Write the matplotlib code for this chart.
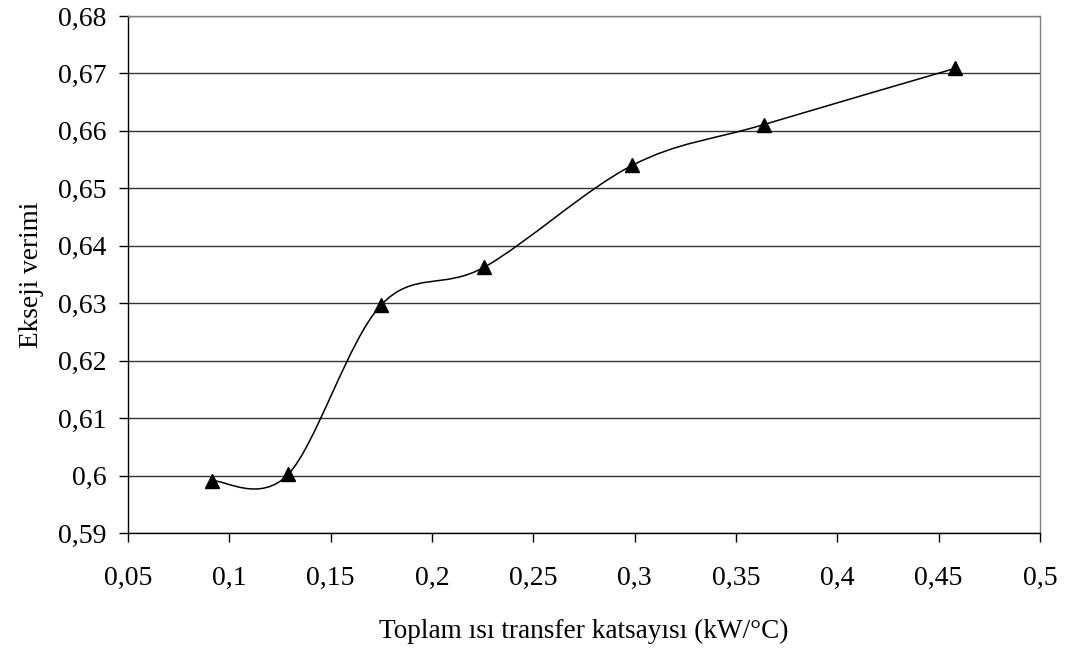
import matplotlib
matplotlib.use('Agg')
import matplotlib.pyplot as plt
from matplotlib.path import Path
from matplotlib.patches import PathPatch

# Data
u_values = [0.0915, 0.129, 0.1749, 0.2259, 0.2988, 0.3637, 0.4583]
exergy_eff = [0.5991, 0.6002, 0.6297, 0.6363, 0.6540, 0.6611, 0.6709]

x_ticks = [0.05, 0.1, 0.15, 0.2, 0.25, 0.3, 0.35, 0.4, 0.45, 0.5]
x_tick_labels = ['0,05', '0,1', '0,15', '0,2', '0,25', '0,3', '0,35', '0,4', '0,45', '0,5']
y_ticks = [0.59, 0.60, 0.61, 0.62, 0.63, 0.64, 0.65, 0.66, 0.67, 0.68]
y_tick_labels = ['0,59', '0,6', '0,61', '0,62', '0,63', '0,64', '0,65', '0,66', '0,67', '0,68']

plt.rcParams['font.family'] = ['Liberation Serif', 'DejaVu Serif']


def smooth_path(xs, ys):
    # Excel-style smoothed line: cubic Bezier segments through the points
    pts = list(zip(xs, ys))
    n = len(pts)
    verts = [pts[0]]
    codes = [Path.MOVETO]
    for i in range(n - 1):
        p0 = pts[i - 1] if i > 0 else pts[i]
        p1 = pts[i]
        p2 = pts[i + 1]
        p3 = pts[i + 2] if i + 2 < n else pts[i + 1]
        c1 = (p1[0] + (p2[0] - p0[0]) / 6, p1[1] + (p2[1] - p0[1]) / 6)
        c2 = (p2[0] - (p3[0] - p1[0]) / 6, p2[1] - (p3[1] - p1[1]) / 6)
        verts += [c1, c2, p2]
        codes += [Path.CURVE4] * 3
    return Path(verts, codes)


fig = plt.figure(figsize=(10.7, 6.52), dpi=100)
ax = fig.add_axes([128 / 1070, (652 - 533) / 652, (1040 - 128) / 1070, (533 - 16) / 652])

ax.add_patch(PathPatch(smooth_path(u_values, exergy_eff), facecolor='none',
                       edgecolor='black', linewidth=1.1, zorder=2))
ax.plot(u_values, exergy_eff, linestyle='none', marker='^', color='black',
        markersize=9.5, zorder=3)

ax.set_xlim(0.05, 0.5)
ax.set_ylim(0.59, 0.68)
ax.set_xticks(x_ticks)
ax.set_xticklabels(x_tick_labels)
ax.set_yticks(y_ticks)
ax.set_yticklabels(y_tick_labels)

ax.yaxis.grid(True, color='#333333', linewidth=1.0)
ax.set_axisbelow(True)

for side in ['top', 'right']:
    ax.spines[side].set_color('#808080')
    ax.spines[side].set_linewidth(1.0)
for side in ['left', 'bottom']:
    ax.spines[side].set_color('black')
    ax.spines[side].set_linewidth(1.0)

ax.tick_params(axis='both', direction='out', length=6.5, width=1.0, labelsize=20)
ax.tick_params(axis='x', pad=17)
ax.tick_params(axis='y', pad=9)

ax.set_xlabel('Toplam ısı transfer katsayısı (kW/°C)', fontsize=19.6, labelpad=20)
ax.set_ylabel('Ekseji verimi', fontsize=19.6, labelpad=10)

fig.savefig('out.png', dpi=100)
